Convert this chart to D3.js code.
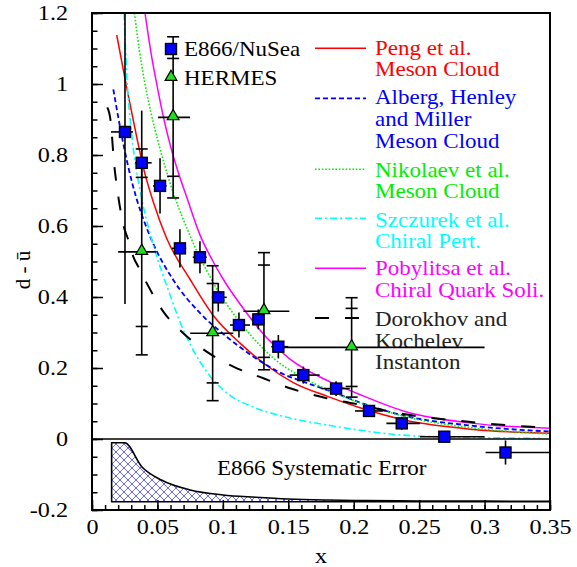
<!DOCTYPE html>
<html><head><meta charset="utf-8">
<script src="https://cdn.jsdelivr.net/npm/d3@7"></script>
<style>body{margin:0;background:#fff} svg{display:block} text{font-family:"Liberation Serif","DejaVu Serif",serif}</style>
</head><body>
<script>
// ---------------- DATA ----------------
const e866X   = [0.0252,0.038,0.052,0.0672,0.0825,0.0965,0.1123,0.1271,0.1424,0.1615,0.1865,0.2117,0.2367,0.2692,0.316];
const e866Y   = [0.865,0.778,0.713,0.537,0.512,0.399,0.321,0.337,0.26,0.18,0.142,0.079,0.044,0.0065,-0.038];
const e866Err = [0.485,0.147,0.078,0.054,0.045,0.04,0.035,0.028,0.033,0.024,0.021,0.015,0.018,0.016,0.034];
const e866XLo = [0.0145,0.0329,0.0467,0.061,0.077,0.0915,0.1055,0.122,0.137,0.151,0.1755,0.201,0.225,0.2507,0.3008];
const e866XHi = [0.0313,0.0456,0.057,0.072,0.0877,0.103,0.1207,0.132,0.150,0.174,0.197,0.2226,0.2507,0.300,0.35];

const hermesX    = [0.038,0.062,0.0922,0.1314,0.1984];
const hermesY    = [0.527,0.906,0.298,0.36,0.258];
const hermesXLo  = [0.020,0.0505,0.075,0.1157,0.145];
const hermesXHi  = [0.049,0.0749,0.108,0.1508,0.300];
const hermesStat = [0.21,0.166,0.14,0.13,0.11];
const hermesTot  = [0.29,0.227,0.19,0.165,0.14];

const sysX    = [0.015,0.025,0.038,0.053,0.075,0.1,0.125,0.15,0.18,0.21,0.25,0.3,0.35];
const sysErr  = [0.166,0.166,0.0986,0.061,0.033,0.019,0.0126,0.0076,0.0046,0.003,0.002,0.0015,0.001];
const sysBase = -0.1766;

const pengCurve = [[0.0189,1.138],[0.0265,0.99],[0.0342,0.85],[0.0392,0.765],[0.0471,0.665],[0.0571,0.565],[0.0749,0.45],[0.0927,0.348],[0.1131,0.27],[0.1335,0.207],[0.1538,0.159],[0.18,0.12],[0.2048,0.088],[0.2405,0.052],[0.2914,0.027],[0.35,0.016]];
const albergCurve = [[0.0163,0.985],[0.0214,0.88],[0.0277,0.767],[0.0342,0.675],[0.0405,0.607],[0.0456,0.56],[0.0621,0.448],[0.0825,0.355],[0.1029,0.288],[0.1233,0.232],[0.1437,0.187],[0.164,0.158],[0.1819,0.135],[0.2048,0.103],[0.2405,0.064],[0.2914,0.037],[0.35,0.021]];
const nikolaevCurve = [[0.0324,1.2],[0.036,1.1],[0.04,1.01],[0.045,0.92],[0.05,0.845],[0.056,0.765],[0.062,0.695],[0.0685,0.63],[0.0724,0.595],[0.08,0.53],[0.0876,0.475],[0.095,0.425],[0.1029,0.38],[0.1207,0.295],[0.1385,0.228],[0.159,0.177],[0.1819,0.136],[0.2048,0.102],[0.2405,0.062],[0.2914,0.031],[0.35,0.014]];
const szczurekCurve = [[0.0245,1.2],[0.0265,1.03],[0.0303,0.86],[0.0367,0.70],[0.0418,0.615],[0.0494,0.515],[0.0583,0.42],[0.0672,0.33],[0.0774,0.25],[0.0876,0.19],[0.1029,0.13],[0.1233,0.09],[0.1437,0.066],[0.1819,0.038],[0.2507,0.008],[0.317,0.003],[0.342,0.002]];
const pobylitsaCurve = [[0.0405,1.2],[0.045,1.09],[0.05,0.99],[0.055,0.90],[0.06,0.825],[0.066,0.75],[0.0725,0.68],[0.0825,0.575],[0.0925,0.50],[0.1003,0.45],[0.1182,0.355],[0.1335,0.285],[0.1513,0.225],[0.1819,0.161],[0.2023,0.129],[0.2405,0.076],[0.2914,0.044],[0.35,0.030]];
const dorokhovCurve = [[0.0117,0.934],[0.0143,0.894],[0.0168,0.78],[0.0201,0.683],[0.024,0.603],[0.0278,0.56],[0.0316,0.513],[0.0354,0.485],[0.0418,0.439],[0.0545,0.359],[0.0698,0.298],[0.0876,0.246],[0.108,0.204],[0.131,0.171],[0.1513,0.143],[0.1793,0.115],[0.2,0.1],[0.2354,0.072],[0.286,0.049],[0.332,0.035],[0.35,0.031]];

const xTickValues = [0,0.05,0.1,0.15,0.2,0.25,0.3,0.35];
const yTickValues = [-0.2,0,0.2,0.4,0.6,0.8,1,1.2];

const models = [
  {name:["Peng et al.","Meson Cloud"], data:pengCurve, color:"#ff0000", dash:null, width:1.5, textColor:"#ff0000"},
  {name:["Alberg, Henley","and Miller","Meson Cloud"], data:albergCurve, color:"#0000ff", dash:"5,3", width:1.8, textColor:"#0000ff"},
  {name:["Nikolaev et al.","Meson Cloud"], data:nikolaevCurve, color:"#00ee00", dash:"1.6,1.8", width:1.6, textColor:"#00ee00"},
  {name:["Szczurek et al.","Chiral Pert."], data:szczurekCurve, color:"#00ffff", dash:"7,3,2,3", width:1.6, textColor:"#00ffff"},
  {name:["Pobylitsa et al.","Chiral Quark Soli."], data:pobylitsaCurve, color:"#ff00ff", dash:null, width:1.5, textColor:"#ff00ff"},
  {name:["Dorokhov and","Kochelev","Instanton"], data:dorokhovCurve, color:"#000000", dash:"14,16", width:2, textColor:"#222222"}
];

// ---------------- LAYOUT ----------------
const W = 577, H = 567;
const L = 92, R = 550, T = 13, B = 510;
const FONT = "Liberation Serif, DejaVu Serif, serif";
const SX = 1.15;

const svg = d3.select("body").append("svg").attr("width", W).attr("height", H);
const x = d3.scaleLinear().domain([0, 0.35]).range([L, R]);
const y = d3.scaleLinear().domain([-0.2, 1.2]).range([B, T]);

const defs = svg.append("defs");
defs.append("clipPath").attr("id", "plotclip").append("rect")
  .attr("x", L).attr("y", T).attr("width", R - L).attr("height", B - T);
const pat = defs.append("pattern").attr("id", "hatch").attr("patternUnits", "userSpaceOnUse")
  .attr("width", 8).attr("height", 8);
pat.append("path").attr("d", "M0,0 L8,8 M-2,6 L2,10 M6,-2 L10,2").attr("stroke", "#4444ff").attr("stroke-width", 0.8);
pat.append("path").attr("d", "M8,0 L0,8 M-2,2 L2,-2 M6,10 L10,6").attr("stroke", "#4444ff").attr("stroke-width", 0.8);

function stext(g, str, tx, ty, opts = {}) {
  return g.append("text")
    .attr("transform", `translate(${tx},${ty}) scale(${SX},1)`)
    .style("font-family", FONT).attr("font-size", opts.size || 20)
    .attr("fill", opts.fill || "#000")
    .attr("text-anchor", opts.anchor || "start")
    .text(str);
}

const plot = svg.append("g").attr("clip-path", "url(#plotclip)");

// Systematic error band
const sysData = sysX.map((v, i) => ({x: v, e: sysErr[i]}));
const area = d3.area().x(d => x(d.x)).y0(y(sysBase)).y1(d => y(sysBase + d.e)).curve(d3.curveMonotoneX);
plot.append("path").datum(sysData).attr("d", area).attr("fill", "url(#hatch)")
  .attr("stroke", "#000").attr("stroke-width", 1.6).attr("stroke-linejoin", "round");

// zero line
svg.append("line").attr("x1", x(0)).attr("x2", x(0.35)).attr("y1", y(0)).attr("y2", y(0))
  .attr("stroke", "#000").attr("stroke-width", 1.6);

stext(svg, "E866 Systematic Error", 217, 475);

// Model curves
const line = d3.line().x(d => x(d[0])).y(d => y(d[1])).curve(d3.curveMonotoneX);
models.forEach(m => {
  plot.append("path").datum(m.data).attr("d", line).attr("fill", "none")
    .attr("stroke", m.color).attr("stroke-width", m.width)
    .attr("stroke-dasharray", m.dash);
});

// Legend for models
const legLineY = [48.3, 98.3, 169.3, 218.3, 268.3, 318];
const legTextY = [[55, 76], [103.5, 125.5, 147.5], [176.7, 198.3], [226.7, 248.3], [275, 296.7], [326, 347.5, 369]];
const leg = svg.append("g");
models.forEach((m, i) => {
  leg.append("line").attr("x1", 315).attr("x2", 366).attr("y1", legLineY[i]).attr("y2", legLineY[i])
    .attr("stroke", m.color).attr("stroke-width", m.width).attr("stroke-dasharray", m.dash);
  m.name.forEach((s, j) => stext(leg, s, 375, legTextY[i][j], {fill: m.textColor}));
});

// Axes
const fmt = d3.formatLocale({decimal: ".", thousands: ",", grouping: [3], currency: ["", ""], minus: "-"}).format("~g");
const xAxis = svg.append("g").attr("transform", `translate(0,${B})`)
  .call(d3.axisBottom(x).tickValues(xTickValues).tickSize(-10).tickPadding(9).tickFormat(fmt));
const xMinor = svg.append("g").attr("transform", `translate(0,${B})`)
  .call(d3.axisBottom(x).ticks(35).tickSize(-5).tickFormat(""));
const yAxis = svg.append("g").attr("transform", `translate(${L},0)`)
  .call(d3.axisLeft(y).tickValues(yTickValues).tickSize(-11).tickPadding(24).tickFormat(fmt));
const yMinor = svg.append("g").attr("transform", `translate(${L},0)`)
  .call(d3.axisLeft(y).ticks(28).tickSize(-5.5).tickFormat(""));
[xAxis, xMinor, yAxis, yMinor].forEach(a => {
  a.attr("font-family", null);
  a.select(".domain").remove();
  a.selectAll(".tick line").attr("stroke", "#000").attr("stroke-width", 1.5);
});
xAxis.selectAll(".tick text").style("font-family", FONT).attr("font-size", 21).attr("fill", "#000")
  .attr("transform", `scale(${SX},1)`);
yAxis.selectAll(".tick text").style("font-family", FONT).attr("font-size", 21).attr("fill", "#000")
  .attr("x", -24 / SX).attr("transform", `scale(${SX},1)`);

// axis titles
stext(svg, "x", (L + R) / 2, 563, {anchor: "middle", size: 21});
svg.append("text").attr("transform", "translate(30,270) rotate(-90)")
  .style("font-family", FONT).attr("font-size", 21).attr("text-anchor", "middle").attr("fill", "#000")
  .text("d - \u016B");

// Error bars
const eb = svg.append("g").attr("clip-path", "url(#plotclip)").attr("stroke", "#000").attr("stroke-width", 1.6);
e866X.forEach((v, i) => {
  eb.append("line").attr("x1", x(v)).attr("x2", x(v)).attr("y1", y(e866Y[i] - e866Err[i])).attr("y2", y(e866Y[i] + e866Err[i]));
  eb.append("line").attr("x1", x(e866XLo[i])).attr("x2", x(e866XHi[i])).attr("y1", y(e866Y[i])).attr("y2", y(e866Y[i]));
});
hermesX.forEach((v, i) => {
  const cx = x(v);
  eb.append("line").attr("x1", cx).attr("x2", cx).attr("y1", y(hermesY[i] - hermesTot[i])).attr("y2", y(hermesY[i] + hermesTot[i]));
  eb.append("line").attr("x1", x(hermesXLo[i])).attr("x2", x(hermesXHi[i])).attr("y1", y(hermesY[i])).attr("y2", y(hermesY[i]));
  [hermesTot[i], -hermesTot[i], hermesStat[i], -hermesStat[i]].forEach(d => {
    eb.append("line").attr("x1", cx - 6).attr("x2", cx + 6).attr("y1", y(hermesY[i] + d)).attr("y2", y(hermesY[i] + d));
  });
});

// Markers
const sq = 11;
const mk = svg.append("g");
e866X.forEach((v, i) => {
  mk.append("rect").attr("x", x(v) - sq / 2).attr("y", y(e866Y[i]) - sq / 2).attr("width", sq).attr("height", sq)
    .attr("fill", "#0000ff").attr("stroke", "#000").attr("stroke-width", 1.4);
});
const tri = d3.symbol(d3.symbolTriangle, 60);
hermesX.forEach((v, i) => {
  mk.append("path").attr("d", tri).attr("transform", `translate(${x(v)},${y(hermesY[i]) - 1})`)
    .attr("fill", "#22dd22").attr("stroke", "#000").attr("stroke-width", 1.2);
});

// Legend for data
mk.append("rect").attr("x", 171 - sq / 2).attr("y", 49 - sq / 2).attr("width", sq).attr("height", sq)
  .attr("fill", "#0000ff").attr("stroke", "#000").attr("stroke-width", 1.4);
stext(svg, "E866/NuSea", 184, 56);
mk.append("path").attr("d", tri).attr("transform", "translate(171,77)")
  .attr("fill", "#22dd22").attr("stroke", "#000").attr("stroke-width", 1.2);
stext(svg, "HERMES", 184, 85);

// Frame
svg.append("rect").attr("x", L).attr("y", T).attr("width", R - L).attr("height", B - T)
  .attr("fill", "none").attr("stroke", "#000").attr("stroke-width", 2);
</script>
</body></html>
